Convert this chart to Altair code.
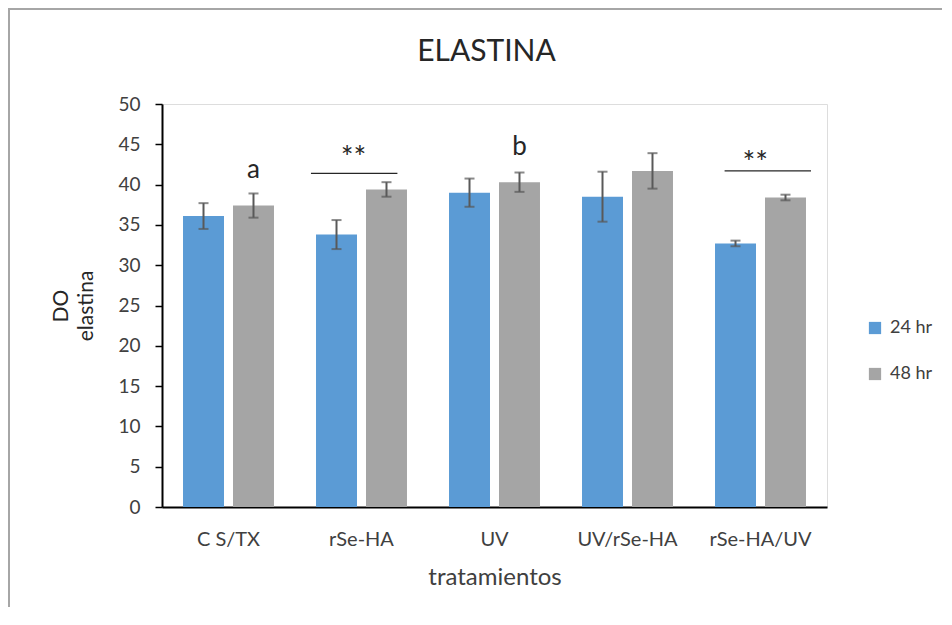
import altair as alt
import pandas as pd

categories = ["C S/TX", "rSe-HA", "UV", "UV/rSe-HA", "rSe-HA/UV"]
series = ["24 hr", "48 hr"]
mean_24 = [36.1, 33.8, 39.0, 38.5, 32.7]
err_24 = [1.6, 1.8, 1.75, 3.1, 0.35]
mean_48 = [37.4, 39.4, 40.3, 41.7, 38.4]
err_48 = [1.5, 0.9, 1.2, 2.2, 0.35]
colors = ["#5B9BD5", "#A5A5A5"]
chart_title = "ELASTINA"

# letter annotations (category, series, y)
letter_text = ["a", "b"]
letter_cat = ["C S/TX", "UV"]
letter_series = ["48 hr", "48 hr"]
letter_y = [41.8, 44.7]

# significance brackets (in category units along x: 0..5)
sig_x1 = [1.12, 4.23]
sig_x2 = [1.77, 4.88]
sig_y = [41.4, 41.7]
sig_text_x = [1.44, 4.46]
sig_text_y = [43.2, 42.5]
sig_text = ["**", "**"]

rows = []
for i, c in enumerate(categories):
    rows.append(dict(cat=c, series="24 hr", mean=mean_24[i], lo=mean_24[i] - err_24[i], hi=mean_24[i] + err_24[i]))
    rows.append(dict(cat=c, series="48 hr", mean=mean_48[i], lo=mean_48[i] - err_48[i], hi=mean_48[i] + err_48[i]))
df = pd.DataFrame(rows)

letters_df = pd.DataFrame(dict(cat=letter_cat, series=letter_series, y=letter_y, t=letter_text))
sig_df = pd.DataFrame(dict(x1=sig_x1, x2=sig_x2, y=sig_y))
sigt_df = pd.DataFrame(dict(x=sig_text_x, y=sig_text_y, t=sig_text))

FONT = "Lato"
W, H = 665, 403
TXT = "#404040"

x_enc = alt.X("cat:N", sort=categories,
              scale=alt.Scale(paddingInner=0.316, paddingOuter=0.158),
              axis=alt.Axis(title="tratamientos", labelAngle=0, ticks=False,
                            domainColor="black", domainWidth=2,
                            labelFontSize=20, labelPadding=22,
                            titleFontSize=24, titlePadding=16,
                            labelColor=TXT, titleColor=TXT,
                            titleFontWeight="normal"))
xo_enc = alt.XOffset("series:N", sort=series, scale=alt.Scale(paddingInner=0.18, paddingOuter=0))
y_scale = alt.Scale(domain=[0, 50])

bars = alt.Chart(df).mark_bar().encode(
    x=x_enc,
    xOffset=xo_enc,
    y=alt.Y("mean:Q", scale=y_scale,
            axis=alt.Axis(title=["DO", "elastina"], values=list(range(0, 51, 5)),
                          grid=False, domainColor="black", domainWidth=2,
                          tickColor="black", tickWidth=1.5, tickSize=7,
                          labelFontSize=19, labelPadding=15,
                          titleFontSize=21, titlePadding=21, titleLineHeight=25,
                          labelColor=TXT, titleColor="#262626",
                          titleFontWeight="normal")),
    color=alt.Color("series:N", sort=series,
                    scale=alt.Scale(domain=series, range=colors),
                    legend=alt.Legend(title=None, orient="none", legendX=704, legendY=215,
                                      symbolType="square", symbolSize=150,
                                      symbolStrokeWidth=0, symbolOpacity=1,
                                      labelFontSize=18, labelColor=TXT,
                                      labelOffset=6, rowPadding=28, padding=0)),
)

err_rule = alt.Chart(df).mark_rule(color="#595959", strokeWidth=2).encode(
    x=alt.X("cat:N", sort=categories), xOffset=xo_enc,
    y=alt.Y("lo:Q", scale=y_scale), y2="hi:Q")
cap_lo = alt.Chart(df).mark_tick(color="#595959", thickness=2, size=10, orient="horizontal").encode(
    x=alt.X("cat:N", sort=categories), xOffset=xo_enc, y=alt.Y("lo:Q", scale=y_scale))
cap_hi = alt.Chart(df).mark_tick(color="#595959", thickness=2, size=10, orient="horizontal").encode(
    x=alt.X("cat:N", sort=categories), xOffset=xo_enc, y=alt.Y("hi:Q", scale=y_scale))

letters = alt.Chart(letters_df).mark_text(font=FONT, fontSize=26, color="#262626", baseline="middle").encode(
    x=alt.X("cat:N", sort=categories), xOffset=alt.XOffset("series:N", sort=series),
    y=alt.Y("y:Q", scale=y_scale), text="t:N")

base = alt.layer(bars, err_rule, cap_lo, cap_hi, letters)

qx = alt.Scale(domain=[0, 5])
sig_lines = alt.Chart(sig_df).mark_rule(color="#262626", strokeWidth=1.2).encode(
    x=alt.X("x1:Q", scale=qx, axis=None), x2="x2:Q",
    y=alt.Y("y:Q", scale=y_scale))
sig_txt = alt.Chart(sigt_df).mark_text(font=FONT, fontSize=30, color="#262626", baseline="middle").encode(
    x=alt.X("x:Q", scale=qx, axis=None), y=alt.Y("y:Q", scale=y_scale), text="t:N")

one = pd.DataFrame({"k": [0]})
title_mark = alt.Chart(one).mark_text(font=FONT, fontSize=30, color="#262626", baseline="middle",
                                      text=chart_title).encode(
    x=alt.value(W / 2 - 8), y=alt.value(-52))
frame_left = alt.Chart(one).mark_rule(color="#A6A6A6", strokeWidth=2).encode(
    x=alt.value(-153), y=alt.value(-95), y2=alt.value(520))
frame_top = alt.Chart(one).mark_rule(color="#A6A6A6", strokeWidth=2).encode(
    x=alt.value(-154), x2=alt.value(800), y=alt.value(-95))

annot = alt.layer(sig_lines, sig_txt, title_mark, frame_left, frame_top)

chart = alt.layer(base, annot).resolve_scale(x="independent").properties(
    width=W, height=H,
    autosize=alt.AutoSizeParams(type="none"),
    padding={"left": 154, "top": 96, "right": 115, "bottom": 100},
).configure_view(strokeWidth=0).configure(font=FONT).configure_axis(
    labelFont=FONT, titleFont=FONT).configure_legend(labelFont=FONT)

chart.save("out.html", embed_options={"renderer": "svg", "actions": False})
